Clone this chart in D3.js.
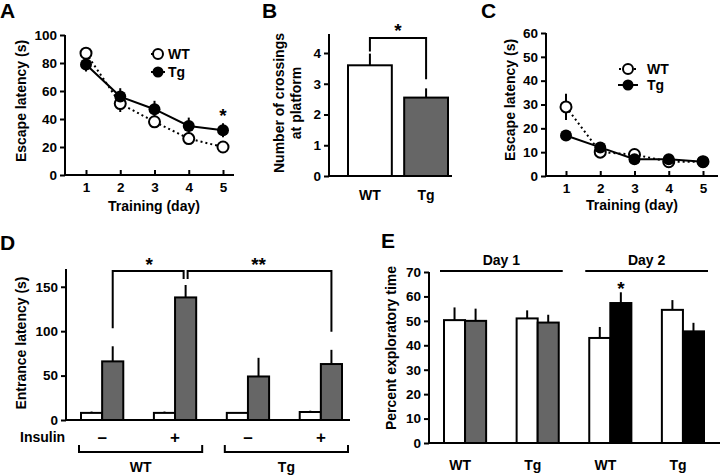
<!DOCTYPE html>
<html><head><meta charset="utf-8">
<script src="https://cdn.jsdelivr.net/npm/d3@7"></script>
<style>
body{margin:0;background:#fff;}
svg text{font-family:"Liberation Sans",Arial,sans-serif;font-weight:bold;fill:#000;}
</style></head>
<body><svg id="c" width="720" height="475"></svg>
<script>
// ---------- DATA ----------
const days = [1,2,3,4,5];
const aWT = [87,51,38,26,20];
const aWTErr = [4,6,4,3,2];
const aTg = [79,56,47,35,32];
const aTgErr = [5,6,6,6,5];
const aTicks = [0,20,40,60,80,100];

const bGroups = ["WT","Tg"];
const bValues = [3.6,2.55];
const bErr = [0.38,0.3];
const bTicks = [0,1,2,3,4];

const cWT = [29,10,9,6,6];
const cWTErr = [5.5,1,1,1,0.5];
const cTg = [17,12,7,7,6];
const cTgErr = [1,1,1,1,0.5];
const cTicks = [0,10,20,30,40,50,60];

const dInsulin = ["\u2013","+","\u2013","+"];
const dGenotypes = ["WT","Tg"];
const dWhite = [8,8,8,9];
const dWhiteErr = [1.5,1.5,1,1.5];
const dGray = [66,138,49,63];
const dGrayErr = [17,14,21,16];
const dTicks = [0,50,100,150];

const eGroups = ["WT","Tg","WT","Tg"];
const eDays = ["Day 1","Day 2"];
const eWhite = [50.3,51,43,54.5];
const eWhiteErr = [5.2,3.3,4.5,4];
const eFilled = [50,49.3,57.3,45.7];
const eFilledErr = [5,3.2,4.4,3.5];
const eTicks = [0,10,20,30,40,50,60,70];

// ---------- HELPERS ----------
const svg = d3.select("#c");
const LW = 2;
const TICK_FS = "13.5px";
const fmt = d3.format("d");
function styleAxis(ax){
  ax.select(".domain").remove();
  ax.selectAll("line").attr("stroke-width",LW);
  ax.selectAll("text").style("font-size",TICK_FS).style("font-weight","bold").style("font-family","'Liberation Sans',Arial,sans-serif");
}
function yAxis(g, y, x0, ticks){
  const ax = g.append("g").attr("transform",`translate(${x0},0)`)
    .call(d3.axisLeft(y).tickValues(ticks).tickFormat(fmt).tickSize(5).tickSizeOuter(0).tickPadding(3));
  styleAxis(ax);
  return ax;
}
function xAxisDays(g, x, y0){
  const ax = g.append("g").attr("transform",`translate(0,${y0})`)
    .call(d3.axisBottom(x).tickValues(days).tickFormat(fmt).tickSize(-5).tickSizeOuter(0).tickPadding(7.5));
  styleAxis(ax);
}
function axisLines(g, x0, yTop, yBot, xEnd){
  g.append("path").attr("d",`M${x0},${yTop}V${yBot}H${xEnd}`).attr("fill","none").attr("stroke","#000").attr("stroke-width",LW);
}
function label(g,x,y,t,size,anchor,rot){
  const el = g.append("text").attr("x",x).attr("y",y).text(t).style("font-size",size+"px")
    .attr("text-anchor",anchor||"middle");
  if(rot) el.attr("transform",`rotate(-90,${x},${y})`);
  return el;
}
function seg(g,x1,y1,x2,y2){
  g.append("line").attr("x1",x1).attr("y1",y1).attr("x2",x2).attr("y2",y2).attr("stroke","#000").attr("stroke-width",LW);
}

// ---------- PANEL A ----------
(function(){
  const g = svg.append("g");
  const x = d3.scaleLinear().domain([1,5]).range([86,223]);
  const y = d3.scaleLinear().domain([0,100]).range([175,35]);
  axisLines(g,65,35,175,234);
  yAxis(g,y,65,aTicks);
  xAxisDays(g,x,175);
  const line = d3.line().x((d,i)=>x(days[i])).y(d=>y(d));
  g.append("path").datum(aWT).attr("d",line).attr("fill","none").attr("stroke","#000").attr("stroke-width",LW).attr("stroke-dasharray","2,3");
  g.append("path").datum(aTg).attr("d",line).attr("fill","none").attr("stroke","#000").attr("stroke-width",LW);
  days.forEach((d,i)=>{ seg(g,x(d),y(aWT[i]-aWTErr[i]),x(d),y(aWT[i]+aWTErr[i])); seg(g,x(d),y(aTg[i]-aTgErr[i]),x(d),y(aTg[i]+aTgErr[i])); });
  g.selectAll(".wt").data(aWT).join("circle").attr("cx",(d,i)=>x(days[i])).attr("cy",d=>y(d)).attr("r",5.5).attr("fill","#fff").attr("stroke","#000").attr("stroke-width",LW);
  g.selectAll(".tg").data(aTg).join("circle").attr("cx",(d,i)=>x(days[i])).attr("cy",d=>y(d)).attr("r",6).attr("fill","#000");
  // legend
  g.append("line").attr("x1",151).attr("x2",164).attr("y1",54).attr("y2",54).attr("stroke","#000").attr("stroke-width",LW).attr("stroke-dasharray","2,3");
  g.append("circle").attr("cx",158).attr("cy",54).attr("r",5).attr("fill","#fff").attr("stroke","#000").attr("stroke-width",LW);
  seg(g,151,72,165,72);
  g.append("circle").attr("cx",158).attr("cy",72).attr("r",5.5).attr("fill","#000");
  label(g,168,59,"WT",14,"start"); label(g,168,77,"Tg",14,"start");
  label(g,x(5),122,"*",19);
  label(g,154,211,"Training (day)",14);
  label(g,26,101,"Escape latency (s)",14,"middle",true);
  label(g,0,18,"A",21,"start");
})();

// ---------- PANEL B ----------
(function(){
  const g = svg.append("g");
  const x = d3.scaleBand().domain(bGroups).range([348,448]).paddingInner(0.22);
  const y = d3.scaleLinear().domain([0,4]).range([176,53]);
  axisLines(g,329,34,176,452);
  yAxis(g,y,329,bTicks);
  bGroups.forEach((k,i)=>{
    const cx = x(k)+x.bandwidth()/2;
    seg(g,cx,y(bValues[i]),cx,y(bValues[i]+bErr[i]));
    g.append("rect").attr("x",x(k)).attr("y",y(bValues[i])).attr("width",x.bandwidth()).attr("height",y(0)-y(bValues[i]))
      .attr("fill",i===0?"#fff":"#666").attr("stroke","#000").attr("stroke-width",LW);
    label(g,cx,200,k,14);
  });
  const c0 = x("WT")+x.bandwidth()/2, c1 = x("Tg")+x.bandwidth()/2;
  g.append("path").attr("d",`M${c0},${y(bValues[0]+bErr[0])-2}V38H${c1}V${y(bValues[1]+bErr[1])-9}`).attr("fill","none").attr("stroke","#000").attr("stroke-width",LW);
  label(g,(c0+c1)/2,37,"*",19);
  label(g,284,103,"Number of crossings",14,"middle",true);
  label(g,301,103,"at platform",14,"middle",true);
  label(g,262,18,"B",21,"start");
})();

// ---------- PANEL C ----------
(function(){
  const g = svg.append("g");
  const x = d3.scaleLinear().domain([1,5]).range([566,703]);
  const y = d3.scaleLinear().domain([0,60]).range([176,33]);
  axisLines(g,546,33,176,718);
  yAxis(g,y,546,cTicks);
  xAxisDays(g,x,176);
  const line = d3.line().x((d,i)=>x(days[i])).y(d=>y(d));
  g.append("path").datum(cWT).attr("d",line).attr("fill","none").attr("stroke","#000").attr("stroke-width",LW).attr("stroke-dasharray","2,3");
  g.append("path").datum(cTg).attr("d",line).attr("fill","none").attr("stroke","#000").attr("stroke-width",LW);
  days.forEach((d,i)=>{ seg(g,x(d),y(cWT[i]-cWTErr[i]),x(d),y(cWT[i]+cWTErr[i])); seg(g,x(d),y(cTg[i]-cTgErr[i]),x(d),y(cTg[i]+cTgErr[i])); });
  g.selectAll(".wt").data(cWT).join("circle").attr("cx",(d,i)=>x(days[i])).attr("cy",d=>y(d)).attr("r",5.5).attr("fill","#fff").attr("stroke","#000").attr("stroke-width",LW);
  g.selectAll(".tg").data(cTg).join("circle").attr("cx",(d,i)=>x(days[i])).attr("cy",d=>y(d)).attr("r",6).attr("fill","#000");
  g.append("line").attr("x1",619).attr("x2",637).attr("y1",69).attr("y2",69).attr("stroke","#000").attr("stroke-width",LW).attr("stroke-dasharray","2,3");
  g.append("circle").attr("cx",628).attr("cy",69).attr("r",5).attr("fill","#fff").attr("stroke","#000").attr("stroke-width",LW);
  seg(g,618,85,638,85);
  g.append("circle").attr("cx",628).attr("cy",85).attr("r",5.5).attr("fill","#000");
  label(g,647,74,"WT",14,"start"); label(g,647,90,"Tg",14,"start");
  label(g,632,210,"Training (day)",14);
  label(g,515,100,"Escape latency (s)",14,"middle",true);
  label(g,481,18,"C",21,"start");
})();

// ---------- PANEL D ----------
(function(){
  const g = svg.append("g");
  const idx = d3.range(dWhite.length);
  const x = d3.scaleBand().domain(idx).range([81,342]).paddingInner(0.42);
  const bw = x.bandwidth()/2;
  const y = d3.scaleLinear().domain([0,170]).range([420,269]);
  axisLines(g,66,269,420,350);
  yAxis(g,y,66,dTicks);
  idx.forEach(i=>{
    const x0 = x(i);
    seg(g,x0+bw/2,y(dWhite[i]),x0+bw/2,y(dWhite[i]+dWhiteErr[i]));
    seg(g,x0+bw*1.5,y(dGray[i]),x0+bw*1.5,y(dGray[i]+dGrayErr[i]));
    g.append("rect").attr("x",x0).attr("y",y(dWhite[i])).attr("width",bw).attr("height",y(0)-y(dWhite[i])).attr("fill","#fff").attr("stroke","#000").attr("stroke-width",LW);
    g.append("rect").attr("x",x0+bw).attr("y",y(dGray[i])).attr("width",bw).attr("height",y(0)-y(dGray[i])).attr("fill","#666").attr("stroke","#000").attr("stroke-width",LW);
    label(g,x0+bw,443,dInsulin[i],17);
  });
  label(g,20,442,"Insulin",14,"start");
  const g1 = x(0)+bw*1.5, g2 = x(1)+bw*1.5, g4 = x(3)+bw*1.5;
  g.append("path").attr("d",`M${g1},${y(dGray[0]+dGrayErr[0])-18}V271H${g2-2}V279`).attr("fill","none").attr("stroke","#000").attr("stroke-width",LW);
  g.append("path").attr("d",`M${g2+2},279V271H${g4}V${y(dGray[3]+dGrayErr[3])-18}`).attr("fill","none").attr("stroke","#000").attr("stroke-width",LW);
  label(g,(g1+g2)/2,271,"*",19);
  label(g,(g2+g4)/2,271,"**",19);
  // genotype brackets
  dGenotypes.forEach((k,j)=>{
    const xa = x(j*2)-2, xb = x(j*2+1)+x.bandwidth()+6;
    g.append("path").attr("d",`M${xa},445V452H${xb}V445`).attr("fill","none").attr("stroke","#000").attr("stroke-width",LW);
    label(g,(xa+xb)/2,472,k,14);
  });
  label(g,26,343,"Entrance latency (s)",14,"middle",true);
  label(g,0,250,"D",21,"start");
})();

// ---------- PANEL E ----------
(function(){
  const g = svg.append("g");
  const idx = d3.range(eWhite.length);
  const x = d3.scaleBand().domain(idx).range([444,704]).paddingInner(0.42);
  const bw = x.bandwidth()/2;
  const y = d3.scaleLinear().domain([0,70]).range([443,272]);
  axisLines(g,429,272,443,720);
  yAxis(g,y,429,eTicks);
  idx.forEach(i=>{
    const x0 = x(i);
    seg(g,x0+bw/2,y(eWhite[i]),x0+bw/2,y(eWhite[i]+eWhiteErr[i]));
    seg(g,x0+bw*1.5,y(eFilled[i]),x0+bw*1.5,y(eFilled[i]+eFilledErr[i]));
    g.append("rect").attr("x",x0).attr("y",y(eWhite[i])).attr("width",bw).attr("height",y(0)-y(eWhite[i])).attr("fill","#fff").attr("stroke","#000").attr("stroke-width",LW);
    g.append("rect").attr("x",x0+bw).attr("y",y(eFilled[i])).attr("width",bw).attr("height",y(0)-y(eFilled[i])).attr("fill",i<2?"#666":"#000").attr("stroke","#000").attr("stroke-width",LW);
    label(g,x0+bw-5,470,eGroups[i],14);
  });
  eDays.forEach((k,j)=>{
    const xa = x(j*2)-4, xb = x(j*2+1)+x.bandwidth()+4;
    seg(g,xa,271,xb,271);
    label(g,(xa+xb)/2,265,k,14);
  });
  label(g,x(2)+bw*1.5,295,"*",19);
  label(g,396,348,"Percent exploratory time",14,"middle",true);
  label(g,381,248,"E",21,"start");
})();
</script></body></html>
